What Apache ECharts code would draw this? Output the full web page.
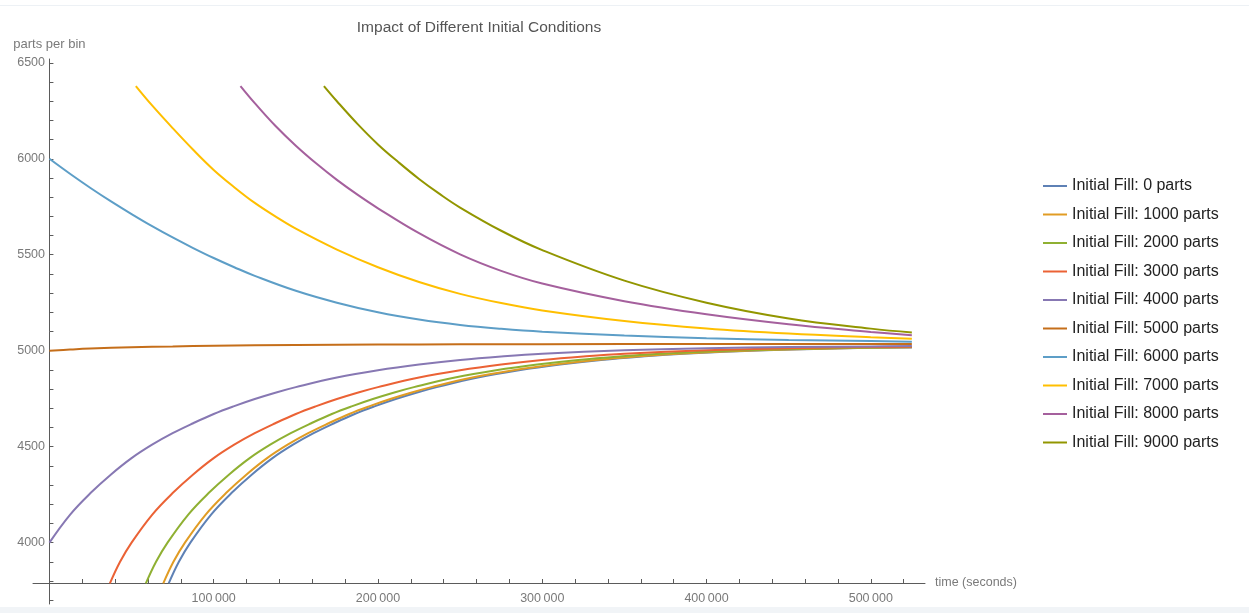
<!DOCTYPE html>
<html>
<head>
<meta charset="utf-8">
<script src="https://cdn.jsdelivr.net/npm/echarts@6/dist/echarts.min.js"></script>
<style>
html,body{margin:0;padding:0;background:#fff;}
#c{position:absolute;left:0;top:0;width:1249px;height:613px;}
.topline{position:absolute;left:0;top:5px;width:1249px;height:1px;background:#edf1f5;}
.bottomband{position:absolute;left:0;top:607px;width:1249px;height:6px;background:#f1f4f7;}
</style>
</head>
<body>
<div id="c"></div>
<div class="topline"></div>
<div class="bottomband"></div>
<script>
// ---- data: [time (s), parts per bin] ----
const fills = [0, 1000, 2000, 3000, 4000, 5000, 6000, 7000, 8000, 9000];
const colors = ['#5E81B5','#E19C24','#8FB032','#EB6235','#8778B3','#C56E1A','#5D9EC7','#FFBF00','#A5609D','#929600'];

const fill0 = [[72600,3787],[78800,3900],[85800,4000],[98300,4145],[110800,4258],[123300,4355],[135800,4440],[148300,4510],[160800,4570],[173300,4622],[185800,4670],[198300,4711],[210800,4748],[223300,4781],[235800,4810],[260800,4860],[285800,4898],[310800,4928],[335800,4952],[360800,4970],[385800,4984],[435800,5002],[485800,5013],[525000,5017]];
const fill1000 = [[69300,3787],[75500,3900],[82500,4000],[95000,4145],[107500,4258],[120000,4355],[132500,4440],[145000,4510],[157500,4570],[170000,4622],[182500,4670],[195000,4711],[207500,4748],[220000,4781],[232500,4810],[257500,4860],[282500,4898],[307500,4928],[332500,4952],[357500,4970],[382500,4984],[432500,5002],[482500,5013],[525000,5018]];
const fill2000 = [[58700,3787],[64900,3900],[71900,4000],[84400,4145],[96900,4258],[109400,4355],[121900,4440],[134400,4510],[146900,4570],[159400,4622],[171900,4670],[184400,4711],[196900,4748],[209400,4781],[221900,4810],[246900,4860],[271900,4898],[296900,4928],[321900,4952],[346900,4970],[371900,4984],[421900,5002],[471900,5013],[525000,5019]];
const fill3000 = [[36800,3787],[43000,3900],[50000,4000],[62500,4145],[75000,4258],[87500,4355],[100000,4440],[112500,4510],[125000,4570],[137500,4622],[150000,4670],[162500,4711],[175000,4748],[187500,4781],[200000,4810],[225000,4860],[250000,4898],[275000,4928],[300000,4952],[325000,4970],[350000,4984],[400000,5002],[450000,5013],[500000,5019],[525000,5021]];
const fill4000 = [[0,4000],[12500,4145],[25000,4258],[37500,4355],[50000,4440],[62500,4510],[75000,4570],[87500,4622],[100000,4670],[112500,4711],[125000,4748],[137500,4781],[150000,4810],[175000,4860],[200000,4898],[225000,4928],[250000,4952],[275000,4970],[300000,4984],[350000,5002],[400000,5013],[450000,5019],[500000,5022],[525000,5024]];
const fill5000 = [[0,5000],[12500,5006],[25000,5011],[50000,5018],[75000,5022],[100000,5026],[150000,5030],[200000,5032],[250000,5033],[300000,5034],[400000,5035],[525000,5035]];
const fill6000 = [[0,6000],[12500,5922],[25000,5848],[37500,5778],[50000,5712],[62500,5649],[75000,5590],[87500,5535],[100000,5483],[112500,5435],[125000,5390],[150000,5312],[175000,5250],[200000,5200],[225000,5162],[250000,5134],[275000,5114],[300000,5099],[350000,5079],[400000,5065],[450000,5056],[500000,5050],[525000,5047]];
const fill7000 = [[52600,6379],[62500,6278],[75000,6160],[87500,6047],[100000,5942],[112500,5852],[125000,5770],[137500,5700],[150000,5636],[175000,5527],[200000,5435],[225000,5358],[250000,5296],[275000,5248],[300000,5210],[350000,5155],[400000,5116],[450000,5089],[500000,5070],[525000,5062]];
const fill8000 = [[116300,6379],[125000,6290],[137500,6172],[150000,6068],[162500,5975],[175000,5890],[187500,5813],[200000,5742],[225000,5612],[250000,5502],[275000,5416],[300000,5350],[350000,5258],[400000,5190],[450000,5138],[500000,5098],[525000,5080]];
const fill9000 = [[167100,6379],[175000,6300],[187500,6182],[200000,6075],[212500,5982],[225000,5895],[237500,5817],[250000,5746],[275000,5625],[300000,5524],[350000,5365],[400000,5250],[450000,5168],[500000,5115],[525000,5095]];

const seriesValues = [fill0, fill1000, fill2000, fill3000, fill4000, fill5000, fill6000, fill7000, fill8000, fill9000];

// ---- ticks ----
const yLabelValues = [4000, 4500, 5000, 5500, 6000, 6500];
const yTickValues = [3700,3800,3900,4000,4100,4200,4300,4400,4500,4600,4700,4800,4900,5000,5100,5200,5300,5400,5500,5600,5700,5800,5900,6000,6100,6200,6300,6400,6500];
const xLabelValues = [100000, 200000, 300000, 400000, 500000];
const xTickValues = [0,20000,40000,60000,80000,100000,120000,140000,160000,180000,200000,220000,240000,260000,280000,300000,320000,340000,360000,380000,400000,420000,440000,460000,480000,500000,520000];

const FONT = '"Liberation Sans", Arial, sans-serif';
const AXIS_COLOR = '#5b5b5b';
const LABEL_COLOR = '#7a7a7a';

const names = fills.map(f => 'Initial Fill: ' + f + ' parts');

const chart = echarts.init(document.getElementById('c'), null, {renderer: 'canvas'});
chart.setOption({
  animation: false,
  backgroundColor: '#ffffff',
  textStyle: {fontFamily: FONT},
  title: {
    text: 'Impact of Different Initial Conditions',
    left: 474,
    textAlign: 'center',
    top: 15,
    textStyle: {fontFamily: FONT, fontSize: 15.5, fontWeight: 'normal', color: '#555555'}
  },
  legend: {
    orient: 'vertical',
    left: 1038,
    top: 173,
    icon: 'rect',
    itemWidth: 24,
    itemHeight: 2,
    itemGap: 12.5,
    data: names,
    selectedMode: false,
    textStyle: {fontFamily: FONT, fontSize: 16, lineHeight: 16, color: '#222222'}
  },
  grid: {left: 33, right: 324, top: 59, bottom: 9, containLabel: false, outerBoundsMode: 'none'},
  xAxis: {
    type: 'value',
    min: -10000,
    max: 533000,
    position: 'bottom',
    offset: -21,
    splitLine: {show: false},
    axisLine: {show: true, onZero: false, lineStyle: {color: AXIS_COLOR, width: 1}},
    axisTick: {show: true, inside: true, length: 4, customValues: xTickValues, lineStyle: {color: AXIS_COLOR}},
    axisLabel: {
      customValues: xLabelValues,
      margin: 9,
      color: LABEL_COLOR,
      fontFamily: FONT,
      fontSize: 12.5,
      formatter: v => String(v).replace(/\B(?=(\d{3})+(?!\d))/g, '\u2009')
    },
    name: 'time (seconds)',
    nameLocation: 'end',
    nameGap: 10,
    nameTextStyle: {color: LABEL_COLOR, fontFamily: FONT, fontSize: 12.5, verticalAlign: 'middle'}
  },
  yAxis: {
    type: 'value',
    min: 3680,
    max: 6520,
    splitLine: {show: false},
    axisLine: {show: true, onZero: true, lineStyle: {color: AXIS_COLOR, width: 1}},
    axisTick: {show: true, inside: true, length: 4, customValues: yTickValues, lineStyle: {color: AXIS_COLOR}},
    axisLabel: {customValues: yLabelValues, margin: -12, color: LABEL_COLOR, fontFamily: FONT, fontSize: 12.5, formatter: v => String(v)},
    name: 'parts per bin',
    nameLocation: 'end',
    nameGap: 8,
    nameTextStyle: {color: LABEL_COLOR, fontFamily: FONT, fontSize: 13, align: 'center'}
  },
  series: seriesValues.map((vals, i) => ({
    type: 'line',
    name: names[i],
    data: vals,
    showSymbol: false,
    symbol: 'none',
    smooth: 0.4,
    clip: true,
    lineStyle: {color: colors[i], width: 2},
    itemStyle: {color: colors[i]},
    emphasis: {disabled: true}
  }))
});
</script>
</body>
</html>
